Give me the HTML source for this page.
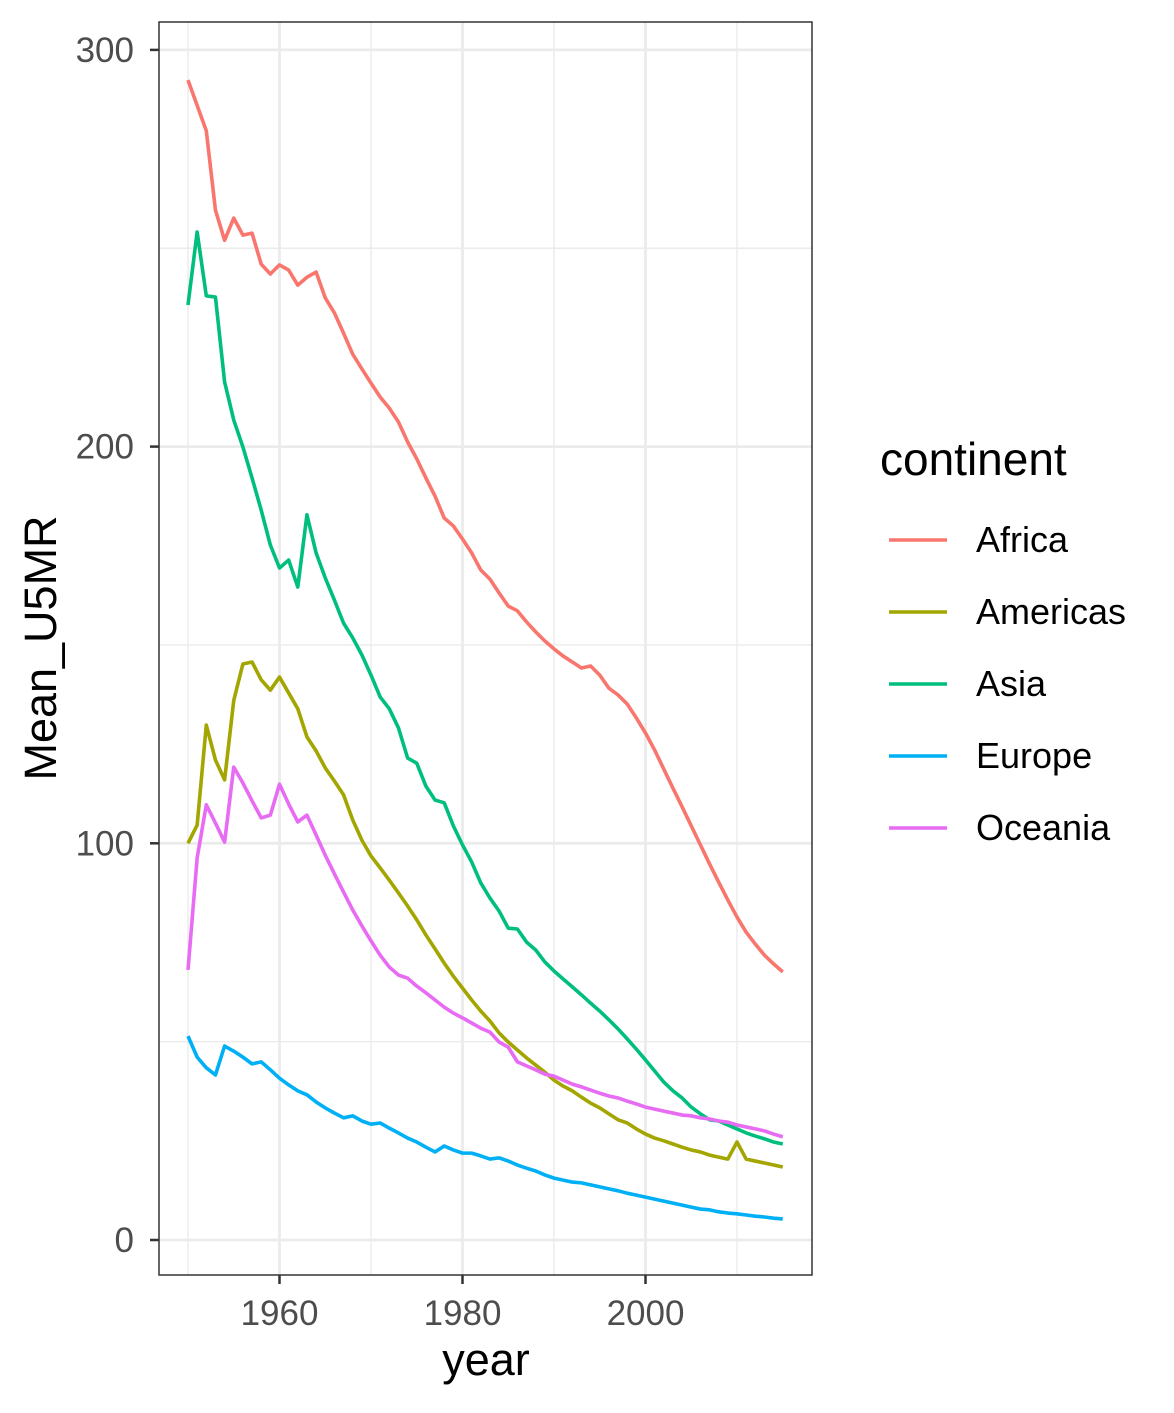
<!DOCTYPE html>
<html><head><meta charset="utf-8"><style>
body{margin:0;background:#fff}
svg text{font-family:"Liberation Sans",Arial,sans-serif}
</style></head><body>
<svg id="chart" width="1174" height="1408" xmlns="http://www.w3.org/2000/svg">
<rect width="1174" height="1408" fill="#fff"/>
<g id="grid"></g>
<g id="series"></g>
<rect x="159" y="22" width="653" height="1253" fill="none" stroke="#333" stroke-width="1.5"/>
<g id="axes"></g>
<text x="486" y="1375" font-size="45" text-anchor="middle" fill="#000">year</text>
<text transform="translate(56,648) rotate(-90)" font-size="45" text-anchor="middle" fill="#000">Mean_U5MR</text>
<text x="880" y="475" font-size="46" fill="#000">continent</text>
<g id="legend"></g>
</svg>
<script>
const years = []; for (let y = 1950; y <= 2015; y++) years.push(y);
const seriesNames = ["Africa","Americas","Asia","Europe","Oceania"];
const colors = ["#F8766D","#A3A500","#00BF7D","#00B0F6","#E76BF3"];
const africa = [292.4,286,279.6,259.6,252,257.6,253.3,253.8,246,243.5,245.8,244.5,240.7,242.7,244,237.5,233.7,228.6,223.3,219.6,216,212.5,209.7,206.2,201.2,196.9,192.1,187.5,182,180,176.7,173.2,168.9,166.6,163.1,159.8,158.6,155.8,153.3,151,149,147.2,145.7,144.2,144.7,142.4,139.1,137.4,135.1,131.6,127.8,123.5,118.7,113.9,109.2,104.4,99.6,94.8,90.2,85.7,81.4,77.6,74.6,71.8,69.6,67.6];
const americas = [100,104.6,129.8,121,116,136,145.2,145.7,141.2,138.6,141.9,137.9,133.9,126.8,123.3,119,115.7,112.2,105.9,100.8,96.8,93.8,90.7,87.5,84.2,80.7,76.9,73.4,69.8,66.5,63.5,60.5,57.7,55.2,52.2,49.9,47.9,45.9,44.1,42.3,40.3,38.8,37.6,36,34.5,33.3,31.8,30.3,29.5,28,26.7,25.7,25,24.2,23.4,22.7,22.2,21.4,20.9,20.4,24.7,20.4,19.9,19.4,18.9,18.4];
const asia = [235.7,254.1,238,237.7,216.3,206.7,199.9,192.1,184,175.2,169.4,171.4,164.6,182.8,173.2,166.9,161.3,155.5,151.8,147.5,142.4,136.9,133.9,129.1,121.5,120.2,114.4,110.9,110.2,104.4,99.6,95.3,90,86.2,82.9,78.6,78.4,75.1,73.1,70.1,67.8,65.8,63.8,61.8,59.7,57.7,55.5,53.2,50.7,48.1,45.4,42.6,39.8,37.6,35.8,33.5,31.8,30.3,30,29,28,27,26.2,25.5,24.7,24.2];
const europe = [51.4,46.1,43.4,41.6,48.9,47.6,46.1,44.4,44.9,42.9,40.8,39.1,37.6,36.6,34.8,33.3,32,30.8,31.3,30,29.2,29.5,28.2,27,25.7,24.7,23.4,22.2,23.7,22.7,21.9,21.9,21.2,20.4,20.7,19.9,18.9,18.1,17.4,16.4,15.6,15.1,14.6,14.4,13.9,13.4,12.9,12.4,11.8,11.3,10.8,10.3,9.8,9.3,8.8,8.3,7.8,7.6,7.1,6.8,6.6,6.3,6,5.8,5.5,5.3];
const oceania = [68.1,96.3,109.7,105.1,100.3,119.2,115.2,110.7,106.4,107.1,114.9,109.9,105.4,107.1,102.1,97,92.3,87.7,83.2,79.2,75.4,71.8,68.8,66.8,66,64,62.3,60.5,58.7,57.2,56,54.7,53.4,52.4,49.9,48.6,44.9,43.9,42.9,41.8,41.3,40.3,39.3,38.6,37.8,37,36.3,35.8,35,34.3,33.5,33,32.5,32,31.5,31.3,30.8,30.5,30,29.7,29,28.5,28,27.5,26.7,26];
const yTicks = [0,100,200,300];
const yMinor = [50,150,250];
const xTicks = [1960,1980,2000];
const xMinor = [1950,1970,1990,2010];

const NS = "http://www.w3.org/2000/svg";
const X = v => 279.5 + (v - 1960) * 9.15;
const Y = v => 1240 - v * 3.967;
function mk(tag, attrs, parent){const e=document.createElementNS(NS,tag);for(const k in attrs)e.setAttribute(k,attrs[k]);parent.appendChild(e);return e;}
const grid=document.getElementById('grid'), ser=document.getElementById('series'), axes=document.getElementById('axes'), leg=document.getElementById('legend');
yMinor.forEach(v=>{const l=mk('line',{x1:159,x2:812,y1:Y(v),y2:Y(v),stroke:'#ebebeb','stroke-width':1.4},grid);

});
xMinor.forEach(v=>{const l=mk('line',{x1:X(v),x2:X(v),y1:22,y2:1275,stroke:'#ebebeb','stroke-width':1.4},grid);

});
yTicks.forEach(v=>{const l=mk('line',{x1:159,x2:812,y1:Y(v),y2:Y(v),stroke:'#ebebeb','stroke-width':2.8},grid);


const t=mk('line',{x1:150,x2:159,y1:Y(v),y2:Y(v),stroke:'#333','stroke-width':2.5},axes);


const tx=mk('text',{x:134,y:Y(v)+12,'font-size':35,'text-anchor':'end',fill:'#4d4d4d'},axes);tx.textContent=v;

});
xTicks.forEach(v=>{const l=mk('line',{x1:X(v),x2:X(v),y1:22,y2:1275,stroke:'#ebebeb','stroke-width':2.8},grid);


const t=mk('line',{x1:X(v),x2:X(v),y1:1275,y2:1284,stroke:'#333','stroke-width':2.5},axes);


const tx=mk('text',{x:X(v),y:1325,'font-size':35,'text-anchor':'middle',fill:'#4d4d4d'},axes);tx.textContent=v;

});
[africa,americas,asia,europe,oceania].forEach((d,i)=>{
const p=mk('polyline',{points:d.map((v,j)=>X(years[j])+','+Y(v)).join(' '),fill:'none',stroke:colors[i],'stroke-width':3.6,'stroke-linejoin':'round'},ser);


const ly=540+i*72;
const ll=mk('line',{x1:889,x2:947,y1:ly,y2:ly,stroke:colors[i],'stroke-width':3.6},leg);


const lt=mk('text',{x:976,y:ly+12,'font-size':36,fill:'#000'},leg);lt.textContent=seriesNames[i];


});
</script>
</body></html>
